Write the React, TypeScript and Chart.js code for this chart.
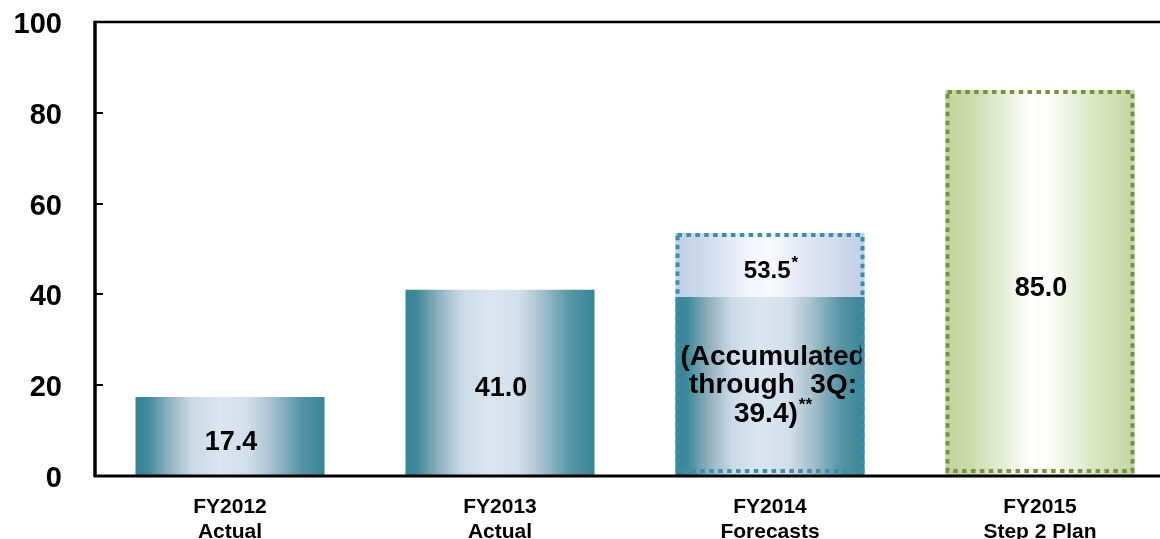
import { useEffect, useRef } from "react";
import { Chart, registerables } from "chart.js";

Chart.register(...registerables);

// ---- data ----
const categories: string[][] = [
  ["FY2012", "Actual"],
  ["FY2013", "Actual"],
  ["FY2014", "Forecasts"],
  ["FY2015", "Step 2 Plan"],
];
// Results (solid bars); for FY2014 this is the amount accumulated through 3Q
const actualValues: (number | null)[] = [17.4, 41.0, 39.4, null];
// Full-year forecast / plan totals (dotted outline bars)
const plannedValues: (number | null)[] = [null, null, 53.5, 85.0];
const actualCaptions: (string[] | null)[] = [null, null, ["(Accumulated", "through  3Q:"], null];
const actualNotes = ["", "", "**", ""];
const plannedNotes = ["", "", "*", ""];
const yTickValues = [0, 20, 40, 60, 80, 100];

// ---- styling ----
const FONT = "'Liberation Sans', Arial, Helvetica, sans-serif";
const CAT_PCT = 0.7;

type Stop = [number, string];
const TEAL_STOPS: Stop[] = [
  [0, "#378696"],
  [0.06, "#3c8999"],
  [0.18, "#92b2c1"],
  [0.3, "#cbdae6"],
  [0.45, "#dbe5f0"],
  [0.6, "#d2deea"],
  [0.72, "#a7c0ce"],
  [0.87, "#5796a7"],
  [1, "#368696"],
];
const FORECAST_STOPS: Stop[] = [
  [0, "#c0d0e7"],
  [0.15, "#cedaec"],
  [0.4, "#f3f6fb"],
  [0.5, "#f7f9fc"],
  [0.75, "#d9e2f0"],
  [1, "#c1d0e7"],
];
const PLAN_STOPS: Stop[] = [
  [0, "#c2d59c"],
  [0.12, "#c9daa8"],
  [0.3, "#e4edd4"],
  [0.45, "#ffffff"],
  [0.55, "#fcfdf9"],
  [0.75, "#dfe9cd"],
  [1, "#c3d69e"],
];
const PLANNED_FILLS: (Stop[] | null)[] = [null, null, FORECAST_STOPS, PLAN_STOPS];
const PLANNED_BORDERS: (string | null)[] = [null, null, "#3a90a8", "#76933c"];

function barGradient(chart: Chart, index: number, stops: Stop[]) {
  const xs = chart.scales.x;
  if (!xs || !chart.chartArea) return stops[0][1];
  const cx = xs.getPixelForValue(index);
  const half = ((xs.width / categories.length) * CAT_PCT) / 2;
  const g = chart.ctx.createLinearGradient(cx - half, 0, cx + half, 0);
  stops.forEach(([o, c]) => g.addColorStop(o, c));
  return g;
}

function drawText(
  ctx: CanvasRenderingContext2D,
  text: string,
  note: string,
  cx: number,
  baseline: number,
  size: number
) {
  ctx.font = `bold ${size}px ${FONT}`;
  const w = ctx.measureText(text).width;
  const noteFont = `bold 17px ${FONT}`;
  ctx.font = noteFont;
  const nw = note ? ctx.measureText(note).width + 1 : 0;
  const start = cx - (w + nw) / 2;
  ctx.font = `bold ${size}px ${FONT}`;
  ctx.textAlign = "left";
  ctx.textBaseline = "alphabetic";
  ctx.fillText(text, start, baseline);
  if (note) {
    ctx.font = noteFont;
    ctx.fillText(note, start + w + 1, baseline - size * 0.42);
  }
}

const framePlugin = {
  id: "frameAndLabels",
  afterDatasetsDraw(chart: Chart) {
    const ctx = chart.ctx;
    const area = chart.chartArea;
    const y = chart.scales.y;
    const actualMeta = chart.getDatasetMeta(0);
    const plannedMeta = chart.getDatasetMeta(1);
    ctx.save();
    ctx.fillStyle = "#000";

    // value labels
    categories.forEach((_, i) => {
      const a = actualValues[i];
      const p = plannedValues[i];
      if (a != null) {
        const el: any = actualMeta.data[i];
        const top = y.getPixelForValue(a);
        const bottom = y.getPixelForValue(0);
        const mid = (top + bottom) / 2;
        const cap = actualCaptions[i];
        if (cap) {
          const lines = [...cap, `${a.toFixed(1)})`];
          ctx.save();
          ctx.beginPath();
          ctx.rect(el.x - el.width / 2, top, el.width - 3, bottom - top);
          ctx.clip();
          lines.forEach((ln, k) => {
            const bl = mid + 6.5 + (k - 1) * 28.5;
            const last = k === lines.length - 1;
            drawText(ctx, ln, last ? actualNotes[i] : "", el.x + 3, bl, 28);
          });
          ctx.restore();
        } else {
          drawText(ctx, a.toFixed(1), actualNotes[i], el.x + 1, mid + 13.5, 27);
        }
      }
      if (p != null) {
        const el: any = plannedMeta.data[i];
        const top = y.getPixelForValue(p);
        const bottom = y.getPixelForValue(a != null ? a : 0);
        const mid = (top + bottom) / 2;
        const size = a != null ? 24 : 27;
        drawText(ctx, p.toFixed(1), plannedNotes[i], el.x + 1, mid + 13, size);
      }
    });

    // dotted outlines around forecast / plan bars
    categories.forEach((_, i) => {
      const p = plannedValues[i];
      const color = PLANNED_BORDERS[i];
      if (p == null || !color) return;
      const el: any = plannedMeta.data[i];
      const lw = 4;
      const left = el.x - el.width / 2 + lw / 2;
      const right = el.x + el.width / 2 - lw / 2;
      const top = y.getPixelForValue(p) + lw / 2;
      const bottom = y.getPixelForValue(0) - lw / 2 - 3;
      ctx.save();
      ctx.strokeStyle = color;
      ctx.lineWidth = lw;
      ctx.setLineDash([4.5, 4.4]);
      ctx.lineCap = "butt";
      ctx.strokeRect(left, top, right - left, bottom - top);
      ctx.restore();
    });

    // axes and frame
    ctx.strokeStyle = "#000";
    ctx.setLineDash([]);
    ctx.lineWidth = 2.5;
    ctx.beginPath();
    ctx.moveTo(area.left, area.top);
    ctx.lineTo(area.right, area.top);
    ctx.stroke();
    ctx.lineWidth = 3;
    ctx.beginPath();
    ctx.moveTo(area.left - 1.5, area.bottom);
    ctx.lineTo(area.right, area.bottom);
    ctx.stroke();
    ctx.lineWidth = 3.5;
    ctx.beginPath();
    ctx.moveTo(area.left, area.top - 1.25);
    ctx.lineTo(area.left, area.bottom);
    ctx.stroke();
    // inner tick marks
    ctx.lineWidth = 2;
    yTickValues.forEach((v) => {
      if (v === 0 || v === 100) return;
      const py = Math.round(y.getPixelForValue(v));
      ctx.beginPath();
      ctx.moveTo(area.left, py);
      ctx.lineTo(area.left + 8, py);
      ctx.stroke();
    });
    ctx.restore();
  },
};

export default function App() {
  const ref = useRef<HTMLCanvasElement>(null);

  useEffect(() => {
    const canvas = ref.current;
    if (!canvas) return;
    const chart = new Chart(canvas, {
      type: "bar",
      data: {
        labels: categories,
        datasets: [
          {
            label: "Actual",
            data: actualValues,
            order: 0,
            grouped: false,
            categoryPercentage: CAT_PCT,
            barPercentage: 1,
            borderWidth: 0,
            backgroundColor: (c: any) => barGradient(c.chart, c.dataIndex, TEAL_STOPS),
          },
          {
            label: "Forecast / Plan",
            data: plannedValues,
            order: 1,
            grouped: false,
            categoryPercentage: CAT_PCT,
            barPercentage: 1,
            borderWidth: 0,
            backgroundColor: (c: any) =>
              barGradient(c.chart, c.dataIndex, PLANNED_FILLS[c.dataIndex] || TEAL_STOPS),
          },
        ] as any,
      },
      options: {
        responsive: false,
        animation: false,
        events: [],
        layout: { padding: { top: 22, left: 0, right: 0, bottom: 0 } },
        plugins: {
          legend: { display: false },
          tooltip: { enabled: false },
        },
        scales: {
          x: {
            grid: { display: false, drawTicks: false },
            border: { display: false },
            ticks: {
              color: "#000",
              padding: 19,
              maxRotation: 0,
              autoSkip: false,
              font: { family: FONT, size: 21, weight: "bold", lineHeight: 1.17 },
            },
            afterFit: (s: any) => {
              s.height = 63;
              s.paddingLeft = 0;
              s.paddingRight = 0;
            },
          },
          y: {
            min: 0,
            max: 100,
            grid: { display: false, drawTicks: false },
            border: { display: false },
            ticks: {
              color: "#000",
              padding: 33,
              labelOffset: 3,
              font: { family: FONT, size: 29, weight: "bold" },
            },
            afterBuildTicks: (s: any) => {
              s.ticks = yTickValues.map((v) => ({ value: v }));
            },
            afterFit: (s: any) => {
              s.width = 95;
              s.paddingTop = 0;
              s.paddingBottom = 0;
            },
          },
        },
      } as any,
      plugins: [framePlugin as any],
    });
    return () => chart.destroy();
  }, []);

  return (
    <div
      style={{
        position: "fixed",
        left: 0,
        top: 0,
        width: 1160,
        height: 539,
        overflow: "hidden",
        background: "#fff",
      }}
    >
      <canvas ref={ref} width={1175} height={539} style={{ display: "block" }} />
    </div>
  );
}
